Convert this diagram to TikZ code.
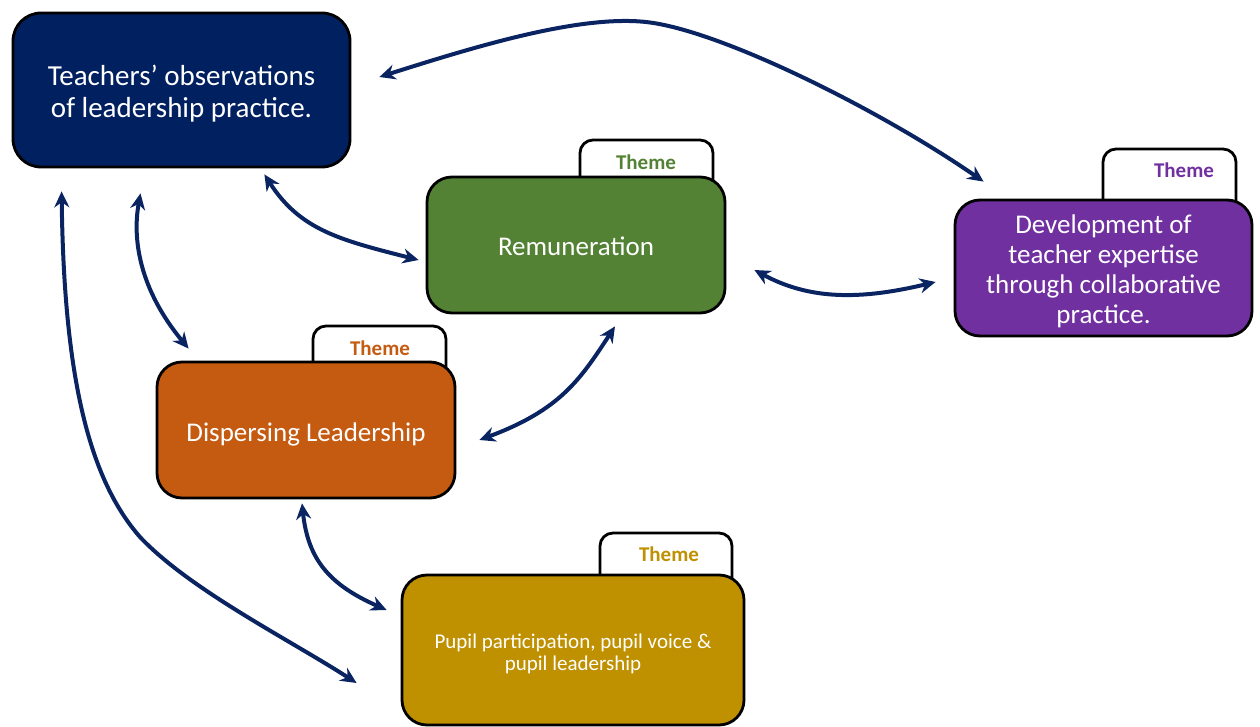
\documentclass[tikz,border=0pt]{standalone}
\usepackage{fontspec}
\setmainfont{Carlito}
\usetikzlibrary{arrows.meta,calc}
\definecolor{navy}{HTML}{002060}
\definecolor{grn}{HTML}{548235}
\definecolor{purp}{HTML}{7030A0}
\definecolor{orng}{HTML}{C55A11}
\definecolor{gold}{HTML}{BF9000}
\definecolor{arrc}{HTML}{0A2462}
\begin{document}
\begin{tikzpicture}[x=1pt,y=-1pt,
  box/.style={draw=black, line width=2.8pt, rounded corners=25pt, inner sep=0pt},
  boxtxt/.style={text=white, align=center, inner sep=0pt},
  tabshape/.style={draw=black, fill=white, line width=2.8pt},
  themetxt/.style={font=\fontsize{21}{23}\selectfont\bfseries, inner sep=0pt},
  link/.style={draw=arrc, line width=4pt, {Stealth[length=16pt,width=15pt]}-{Stealth[length=16pt,width=15pt]}}]
\useasboundingbox (0,0) rectangle (1260,727);

% tabs (behind the boxes)
\draw[tabshape] (580,186) [rounded corners=13pt] -- (580,140) -- (713,140) [sharp corners] -- (713,186) -- cycle;
\draw[tabshape] (1103,206) [rounded corners=13pt] -- (1103,149) -- (1236,149) [sharp corners] -- (1236,206) -- cycle;
\draw[tabshape] (313,370) [rounded corners=13pt] -- (313,326) -- (446,326) [sharp corners] -- (446,370) -- cycle;
\draw[tabshape] (600,582) [rounded corners=13pt] -- (600,533) -- (732,533) [sharp corners] -- (732,582) -- cycle;

% boxes
\node[box, fill=navy, rounded corners=28pt, minimum width=337pt, minimum height=154pt,
      label={[name=teachtxt, boxtxt, yshift=-4pt, font=\fontsize{29}{32}\selectfont]center:{Teachers’ observations\\of leadership practice.}}]
      (teach) at (181.5,90) {};
\node[box, fill=grn, minimum width=298pt, minimum height=136pt,
      label={[name=remtxt, boxtxt, yshift=-1pt, font=\fontsize{27}{30}\selectfont]center:{Remuneration}}]
      (rem) at (576,245) {};
\node[box, fill=purp, minimum width=297pt, minimum height=136pt,
      label={[name=devtxt, boxtxt, yshift=-3pt, font=\fontsize{27}{30}\selectfont]center:{Development of\\teacher expertise\\through collaborative\\practice.}}]
      (dev) at (1103.5,268) {};
\node[box, fill=orng, minimum width=298pt, minimum height=136pt,
      label={[name=disptxt, boxtxt, yshift=-4pt, font=\fontsize{27}{30}\selectfont]center:{Dispersing Leadership}}]
      (disp) at (306,430) {};
\node[box, fill=gold, minimum width=342pt, minimum height=150pt,
      label={[name=puptxt, boxtxt, yshift=-4pt, font=\fontsize{21}{22}\selectfont]center:{Pupil participation, pupil voice \&\\pupil leadership}}]
      (pupil) at (573,650) {};

% theme labels
\node[themetxt, text=grn] (remth) at (646,162) {Theme};
\node[themetxt, text=purp] (devth) at (1184,170) {Theme};
\node[themetxt, text=orng] (dispth) at (380,348) {Theme};
\node[themetxt, text=gold] (pupth) at (669,554) {Theme};

% connectors
\draw[link] ($(teach.east)+(28,-13)$) .. controls (480,45) and (580,15) .. (646,22)
            .. controls (720,30) and (880,110) .. ($(dev.north west)+(30,-17)$);
\draw[link] ($(teach.south east)+(-87,6)$) .. controls (300,230) and (340,240) .. ($(rem.west)+(-7,15)$);
\draw[link] ($(teach.south)+(-41,25)$) .. controls (132,240) and (140,290) .. ($(disp.north west)+(33,-12)$);
\draw[link] ($(teach.south west)+(50,23)$) .. controls (64,380) and (90,480) .. (140,537)
            .. controls (190,590) and (290,640) .. ($(pupil.west)+(-44,33)$);
\draw[link] ($(rem.east)+(28,25)$) .. controls (810,300) and (860,300) .. ($(dev.west)+(-18,14)$);
\draw[link] ($(rem.south)+(39,12)$) .. controls (580,380) and (560,410) .. ($(disp.east)+(23,10)$);
\draw[link] ($(disp.south)+(-4,4)$) .. controls (308,560) and (330,585) .. ($(pupil.west)+(-14,-40)$);
\end{tikzpicture}
\end{document}
